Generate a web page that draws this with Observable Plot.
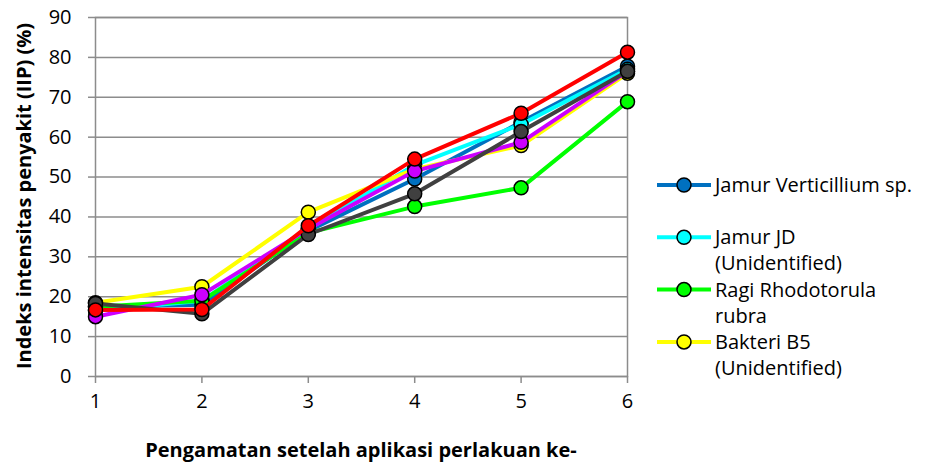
<!DOCTYPE html>
<html><head><meta charset="utf-8">
<script src="https://cdn.jsdelivr.net/npm/d3@7"></script>
<script src="https://cdn.jsdelivr.net/npm/@observablehq/plot@0.6"></script>
<style>
body{margin:0;background:#fff;font-family:"Open Sans",sans-serif}
#wrap{position:relative;width:925px;height:465px;overflow:hidden}
</style></head><body><div id="wrap"></div>
<script>
const observations = [1, 2, 3, 4, 5, 6];
const yTicks = [0, 10, 20, 30, 40, 50, 60, 70, 80, 90];
const seriesNames = [
  "Jamur Verticillium sp.",
  "Jamur JD (Unidentified)",
  "Ragi Rhodotorula rubra",
  "Bakteri B5 (Unidentified)",
  "Perlakuan 5",
  "Perlakuan 6",
  "Perlakuan 7"
];
const legendLines = [
  ["Jamur Verticillium sp."],
  ["Jamur JD", "(Unidentified)"],
  ["Ragi Rhodotorula", "rubra"],
  ["Bakteri B5", "(Unidentified)"]
];
const seriesColors = ["#0070C0", "#00FFFF", "#00FF00", "#FFFF00", "#CC00FF", "#404040", "#FF0000"];
const blueValues    = [17.5, 18.0, 36.5, 49.5, 63.8, 77.8];
const cyanValues    = [16.5, 19.0, 37.0, 53.0, 63.2, 77.0];
const greenValues   = [17.5, 19.0, 36.0, 42.6, 47.3, 68.9];
const yellowValues  = [18.5, 22.5, 41.2, 52.0, 57.9, 76.0];
const magentaValues = [15.0, 20.5, 37.0, 51.5, 58.7, 76.5];
const grayValues    = [18.3, 15.7, 35.6, 45.8, 61.4, 76.5];
const redValues     = [16.7, 16.8, 37.8, 54.5, 66.0, 81.3];
const allValues = [blueValues, cyanValues, greenValues, yellowValues, magentaValues, grayValues, redValues];

const tables = allValues.map((vals, i) => observations.map((x, j) => ({x, y: vals[j], series: seriesNames[i]})));

const W = 925, H = 465;
const chart = Plot.plot({
  width: W, height: H,
  marginLeft: 95, marginRight: 298, marginTop: 17, marginBottom: 89,
  style: {fontFamily: '"Open Sans", sans-serif', color: "#000", background: "#fff"},
  x: {domain: [1, 6]},
  y: {domain: [0, 90]},
  marks: [
    Plot.gridY(yTicks, {stroke: "#8c8c8c", strokeOpacity: 1, strokeWidth: 1.5}),
    Plot.frame({stroke: "#8c8c8c", strokeWidth: 1.5}),
    Plot.axisY(yTicks, {tickSize: 7, stroke: "#8c8c8c", strokeWidth: 1.5, label: null, tickFormat: () => ""}),
    Plot.axisX(observations, {tickSize: 7, stroke: "#8c8c8c", strokeWidth: 1.5, label: null, tickFormat: () => ""}),
    Plot.text(yTicks, {y: d => d, text: d => String(d), frameAnchor: "left", dx: -24, textAnchor: "end", fontSize: 20, fill: "#000"}),
    Plot.text(observations, {x: d => d, text: d => String(d), frameAnchor: "bottom", dy: 31, fontSize: 20, fill: "#000"}),
    ...tables.flatMap((t, i) => [
      Plot.line(t, {x: "x", y: "y", stroke: seriesColors[i], strokeWidth: 4}),
      Plot.dot(t, {x: "x", y: "y", r: 7, fill: seriesColors[i], stroke: "#000", strokeWidth: 1.5})
    ])
  ]
});
const svg = d3.select(chart);
svg.append("text").attr("x", 361).attr("y", 457).attr("text-anchor", "middle")
  .attr("font-weight", "bold").style("font-size", "20px").attr("fill", "#000")
  .text("Pengamatan setelah aplikasi perlakuan ke-");
svg.append("text").attr("transform", "translate(31,196) rotate(-90)").attr("text-anchor", "middle")
  .attr("font-weight", "bold").style("font-size", "20px").attr("fill", "#000")
  .text("Indeks intensitas penyakit (IIP) (%)");
const lg = svg.append("g");
legendLines.forEach((lines, i) => {
  const cy = 185 + i * 52.3;
  const g = lg.append("g");
  g.append("line").attr("x1", 657).attr("x2", 711).attr("y1", cy).attr("y2", cy)
    .attr("stroke", seriesColors[i]).attr("stroke-width", 4);
  g.append("circle").attr("cx", 684).attr("cy", cy).attr("r", 7)
    .attr("fill", seriesColors[i]).attr("stroke", "#000").attr("stroke-width", 1.5);
  lines.forEach((ln, k) => {
    g.append("text").attr("x", 715).attr("y", cy + k * 26).attr("dy", "0.35em")
      .attr("text-anchor", "start").style("font-size", "20px").attr("fill", "#000").text(ln);
  });
});
document.getElementById("wrap").appendChild(chart);
</script></body></html>
